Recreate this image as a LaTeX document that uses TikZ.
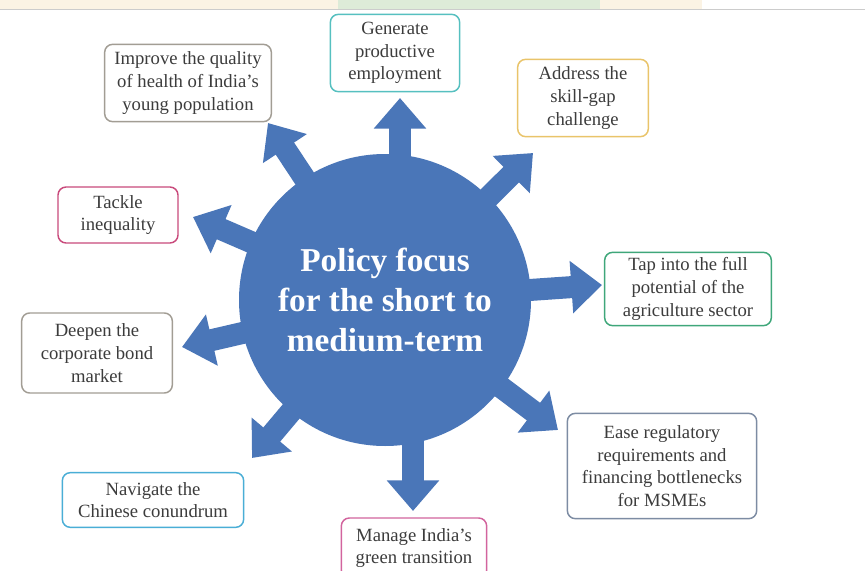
\documentclass[tikz,border=0pt]{standalone}
\usepackage{fontspec}
\setmainfont{Liberation Serif}
\usetikzlibrary{arrows.meta,calc}
\definecolor{policyblue}{HTML}{4A76B8}
\definecolor{boxtext}{HTML}{3C3C3C}
\definecolor{healthgray}{HTML}{A29D94}
\definecolor{genteal}{HTML}{56C0C0}
\definecolor{skillgold}{HTML}{E9C46A}
\definecolor{ineqmagenta}{HTML}{C94A7C}
\definecolor{agrigreen}{HTML}{3FA77A}
\definecolor{msmeslate}{HTML}{7D8CA3}
\definecolor{chinablue}{HTML}{4AAED6}
\definecolor{greenpink}{HTML}{D2649E}
\definecolor{bandbeige}{HTML}{FBF3E4}
\definecolor{bandgreen}{HTML}{DDEBD8}
\tikzset{
  focusbox/.style={draw=#1,line width=1.1pt,rounded corners=6pt,fill=white,
    align=center,text=boxtext,font=\fontsize{14}{17}\selectfont,inner sep=2pt},
  bigarrow/.style={policyblue,line width=16.5pt,-{Triangle[width=38pt,length=23pt]},
    shorten <=-4pt}
}
\begin{document}
\begin{tikzpicture}[x=0.75pt,y=-0.75pt]
\clip (0,0) rectangle (865,571);
\fill[white] (0,0) rectangle (865,571);

\fill[bandbeige] (0,0) rectangle (702,9); %page strip
\fill[bandgreen] (338,0) rectangle (600,9);
\draw[gray!40] (0,9.5) -- (865,9.5);

\node[circle,fill=policyblue,minimum size=219pt,inner sep=0pt,text=white,align=center,
  font=\fontsize{25}{30}\selectfont\bfseries] (focus) at (385,300)
  {Policy focus\\for the short to\\medium-term};

%boxes
\node[focusbox=healthgray,minimum width=125pt,minimum height=58pt] (health) at (188,83)
  {Improve the quality\\of health of India's\\young population};
\node[focusbox=genteal,minimum width=97pt,minimum height=58pt] (gen) at (395,53)
  {Generate\\productive\\employment};
\node[focusbox=skillgold,minimum width=98pt,minimum height=58pt] (skill) at (583,98)
  {Address the\\skill-gap\\challenge};
\node[focusbox=ineqmagenta,minimum width=90pt,minimum height=42pt] (ineq) at (118,215)
  {Tackle\\inequality};
\node[focusbox=agrigreen,minimum width=125pt,minimum height=55pt] (agri) at (688,289)
  {Tap into the full\\potential of the\\agriculture sector};
\node[focusbox=healthgray,minimum width=113pt,minimum height=60pt] (bond) at (97,353)
  {Deepen the\\corporate bond\\market};
\node[focusbox=msmeslate,minimum width=142pt,minimum height=79pt] (msme) at (662,466)
  {Ease regulatory\\requirements and\\financing bottlenecks\\for MSMEs};
\node[focusbox=chinablue,minimum width=136pt,minimum height=41pt] (china) at (153,500)
  {Navigate the\\Chinese conundrum};
\node[focusbox=greenpink,minimum width=109pt,minimum height=45pt] (green) at (414,548)
  {Manage India's\\green transition};

%arrow tips
\coordinate (gentip) at (400,98);
\coordinate (healthtip) at (268,123);
\coordinate (skilltip) at (533,153);
\coordinate (agritip) at (602,285);
\coordinate (msmetip) at (558,430);
\coordinate (greentip) at (413,511);
\coordinate (chinatip) at (252,458);
\coordinate (bondtip) at (182,347);
\coordinate (ineqtip) at (193,217);

\draw[bigarrow] (focus.north -| gentip) -- (gentip);
\draw[bigarrow] (focus.south -| greentip) -- (greentip);
\draw[bigarrow] (focus) -- (healthtip);
\draw[bigarrow] (focus) -- (skilltip);
\draw[bigarrow] (focus) -- (agritip);
\draw[bigarrow] (focus) -- (msmetip);
\draw[bigarrow] (focus) -- (chinatip);
\draw[bigarrow] (focus) -- (bondtip);
\draw[bigarrow] (focus) -- (ineqtip);
\end{tikzpicture}
\end{document}
